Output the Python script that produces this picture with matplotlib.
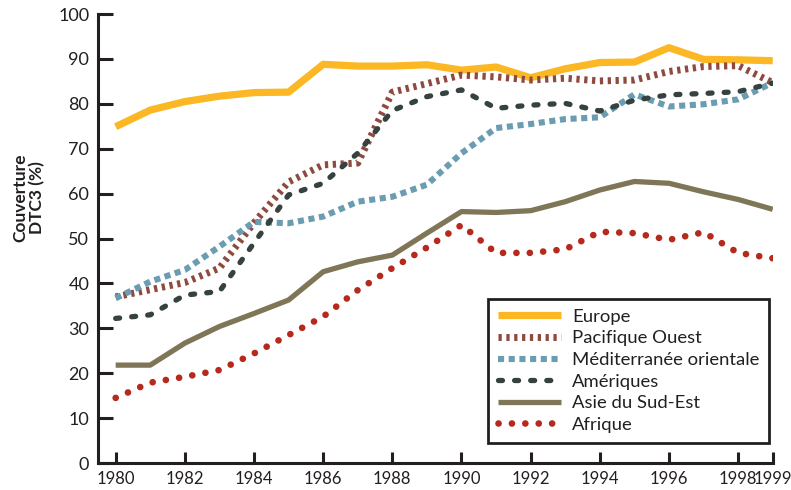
import matplotlib
matplotlib.use("Agg")
import matplotlib.pyplot as plt

plt.rcParams['font.family'] = ['Lato', 'DejaVu Sans']

years = list(range(1980, 2000))

europe = [74.9, 78.6, 80.5, 81.7, 82.5, 82.6, 88.8, 88.4, 88.4, 88.7,
          87.5, 88.2, 85.8, 87.8, 89.2, 89.3, 92.5, 89.9, 89.8, 89.6]
pacifique = [37.0, 38.6, 40.2, 43.4, 53.5, 62.6, 66.4, 66.8, 82.6, 84.5,
             86.4, 86.0, 85.3, 85.7, 85.1, 85.3, 87.2, 88.3, 88.5, 84.7]
mediterranee = [36.7, 40.4, 43.0, 48.2, 53.7, 53.4, 54.9, 58.2, 59.3, 62.0,
                69.0, 74.6, 75.5, 76.6, 77.0, 82.1, 79.4, 79.9, 81.0, 84.7]
ameriques = [32.2, 33.0, 37.4, 38.2, 49.0, 59.7, 62.3, 69.0, 78.5, 81.6,
             83.1, 79.0, 79.7, 80.1, 78.4, 80.8, 82.0, 82.3, 82.7, 84.6]
asie = [21.8, 21.8, 26.7, 30.4, 33.3, 36.3, 42.6, 44.8, 46.3, 51.2,
        56.0, 55.8, 56.2, 58.2, 60.8, 62.7, 62.3, 60.4, 58.7, 56.5]
afrique = [14.5, 17.9, 19.2, 20.7, 24.4, 28.5, 32.6, 38.5, 43.4, 48.0,
           53.0, 46.8, 46.8, 47.6, 51.5, 51.2, 49.7, 51.4, 46.8, 45.6]

xticks = [1980, 1982, 1984, 1986, 1988, 1990, 1992, 1994, 1996, 1998, 1999]
yticks = list(range(0, 101, 10))

fig = plt.figure(figsize=(7.91, 4.90), dpi=100)
ax = fig.add_axes([0.1235, 0.0551, 0.8534, 0.9163])

ax.plot(years, europe, color='#fbb824', lw=5.2, solid_capstyle='butt',
        label='Europe')
ax.plot(years, pacifique, color='#8f4a3f', lw=5.0, dashes=(0.47, 0.66),
        dash_capstyle='butt', label='Pacifique Ouest')
ax.plot(years, mediterranee, color='#6b9db2', lw=4.4, dashes=(1.0, 0.75),
        dash_capstyle='butt', label='Méditerranée orientale')
ax.plot(years, ameriques, color='#36423f', lw=3.8, dashes=(0.75, 2.3),
        dash_capstyle='round', label='Amériques')
ax.plot(years, asie, color='#7e7656', lw=3.8, solid_capstyle='butt',
        label='Asie du Sud-Est')
ax.plot(years, afrique, color='#b52a1c', lw=4.8, dashes=(0.01, 2.0),
        dash_capstyle='round', label='Afrique')

ax.set_xlim(1979.48, 1999)
ax.set_ylim(0, 100)
ax.set_xticks(xticks)
ax.set_xticklabels([str(t) for t in xticks])
ax.set_yticks(yticks)

for s in ['top', 'right']:
    ax.spines[s].set_visible(False)
for s in ['left', 'bottom']:
    ax.spines[s].set_linewidth(2.2)
    ax.spines[s].set_color('#231f20')

ax.tick_params(axis='y', direction='in', length=11, width=2.2,
               color='#231f20', labelsize=13, pad=6)
ax.tick_params(axis='x', direction='in', length=8, width=2.2,
               color='#231f20', labelsize=12, pad=6)
for lab in ax.get_xticklabels() + ax.get_yticklabels():
    lab.set_color('#231f20')

fig.text(0.036, 0.596, 'Couverture\nDTC3 (%)', rotation=90, ha='center',
         va='center', fontsize=12.5, fontweight='bold', color='#231f20',
         linespacing=1.05)

leg = ax.legend(loc='lower right', bbox_to_anchor=(0.995, 0.045),
                borderaxespad=0, fontsize=13.3, handlelength=3.4,
                labelspacing=0.3, borderpad=0.55, handletextpad=0.6,
                fancybox=False, framealpha=1, edgecolor='#231f20')
leg.get_frame().set_linewidth(2.0)
for t in leg.get_texts():
    t.set_color('#231f20')

fig.savefig('out.png', dpi=100)
